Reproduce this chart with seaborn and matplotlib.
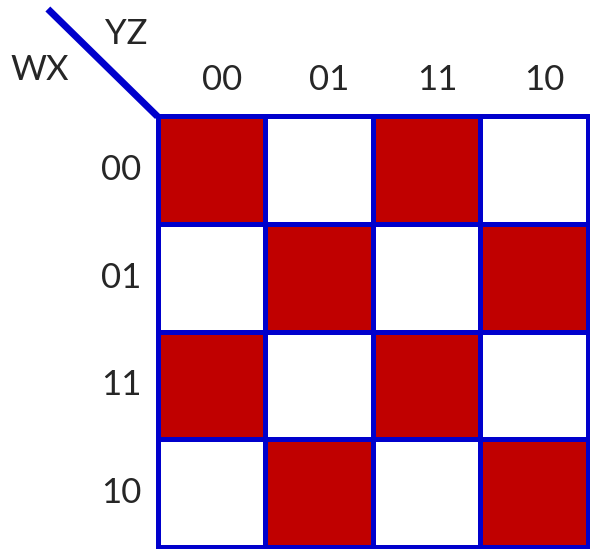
import numpy as np
import matplotlib
matplotlib.use('Agg')
import matplotlib.pyplot as plt
import seaborn as sns
from matplotlib.colors import ListedColormap

# Karnaugh map: rows WX, columns YZ (Gray code order)
row_labels = ['00', '01', '11', '10']
col_labels = ['00', '01', '11', '10']
values = [
    [1, 0, 1, 0],
    [0, 1, 0, 1],
    [1, 0, 1, 0],
    [0, 1, 0, 1],
]

sns.set_style('white')
plt.rcParams['font.family'] = ['Lato', 'DejaVu Sans']

blue = '#0000CC'
red = '#C00000'

fig = plt.figure(figsize=(5.9, 5.49), dpi=100)
W, H = 590, 549
left, top, right, bottom = 157.5, 116.5, 587.5, 546.5
ax = fig.add_axes([left / W, 1 - bottom / H, (right - left) / W, (bottom - top) / H])

sns.heatmap(np.array(values), cmap=ListedColormap(['white', red]), vmin=0, vmax=1,
            cbar=False, linewidths=0, xticklabels=False, yticklabels=False, ax=ax)

# grid lines
for i in range(5):
    ax.plot([i, i], [0, 4], color=blue, lw=3.6, clip_on=False, solid_capstyle='projecting')
    ax.plot([0, 4], [i, i], color=blue, lw=3.6, clip_on=False, solid_capstyle='projecting')

# diagonal
ax.plot([-1.02, 0], [-1.0, 0], color=blue, lw=5, clip_on=False, solid_capstyle='butt')

fs = 25
for j, lab in enumerate(col_labels):
    ax.text(j + 0.6, -0.335, lab, ha='center', va='center', fontsize=fs)
for i, lab in enumerate(row_labels):
    ax.text(-0.34, i + 0.5, lab, ha='center', va='center', fontsize=fs)

ax.text(-1.094, -0.43, 'WX', ha='center', va='center', fontsize=fs)
ax.text(-0.293, -0.763, 'YZ', ha='center', va='center', fontsize=fs)

ax.set_axis_off()
fig.savefig('out.png', dpi=100)
